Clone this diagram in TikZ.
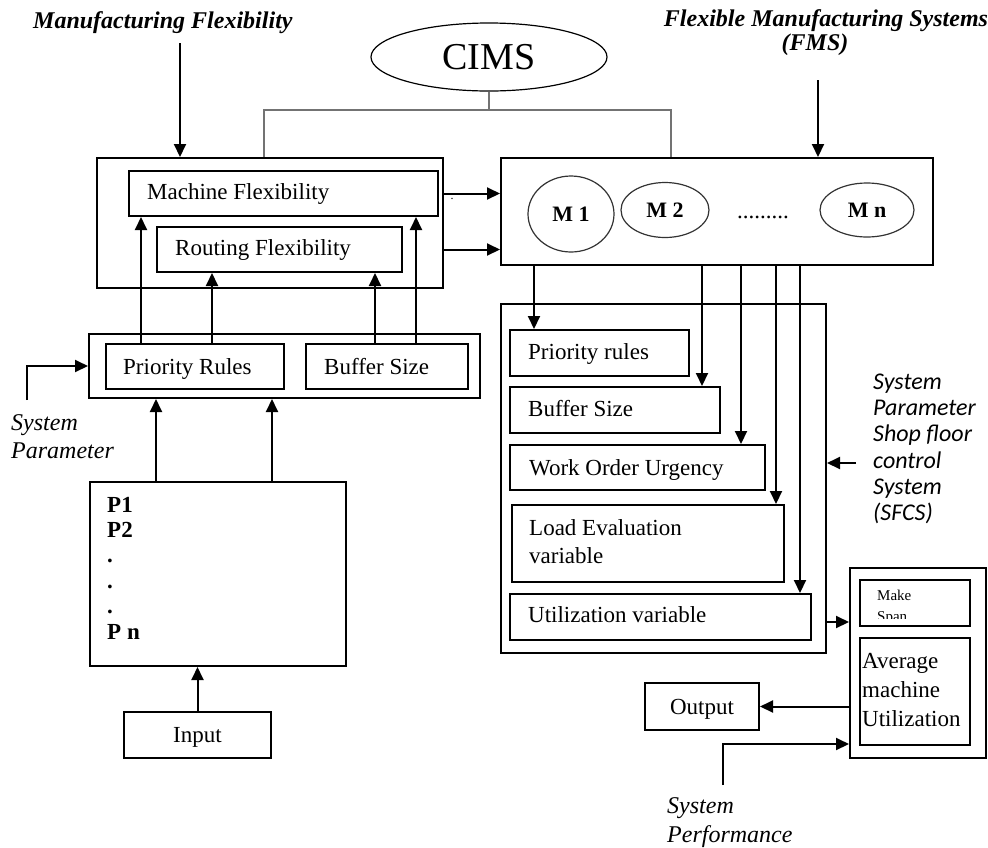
\documentclass[tikz,border=0pt]{standalone}
\usepackage{fontspec}
\setmainfont{Liberation Serif}
\newfontfamily\carl{Carlito}
\usetikzlibrary{arrows.meta,shapes.geometric}
\newcommand\mybox[5]{\node[box, minimum width={#4-#2}, minimum height={#5-#3}] (#1) at ({(#2+#4)/2},{(#3+#5)/2}) {};}
\begin{document}
\begin{tikzpicture}[x=1pt,y=-1pt,
  box/.style={draw, rectangle, line width=2pt, inner sep=0pt},
  txt/.style={font=\fontsize{23}{27}\selectfont, inner sep=0pt, text height=15.2pt, text depth=0pt, anchor=west},
  mtxt/.style={inner sep=0pt, anchor=west, align=left},
  arr/.style={line width=2pt, -{Triangle[length=13pt,width=12pt]}},
  gline/.style={line width=1.5pt, draw=black!55},
  mach/.style={draw=black!80, ellipse, line width=1.2pt, inner sep=0pt, font=\bfseries\fontsize{22}{24}\selectfont}
]
\useasboundingbox (0,0) rectangle (988,847);

% ---------- top labels ----------
\node[inner sep=0pt, anchor=west, font=\bfseries\itshape\fontsize{24}{28}\selectfont] (mflab) at (33,23) {Manufacturing Flexibility};
\node[inner sep=0pt, font=\bfseries\itshape\fontsize{24}{28}\selectfont] (fmslab) at (826,21) {Flexible Manufacturing Systems};
\node[inner sep=0pt, font=\bfseries\itshape\fontsize{24}{28}\selectfont] (fmslab2) at (815,45) {(FMS)};
\node[draw, ellipse, line width=1.2pt, minimum width=236, minimum height=68, inner sep=0pt, font=\fontsize{38}{40}\selectfont] (cims) at (489,57) {CIMS};

% ---------- boxes ----------
\mybox{flex}{97}{158}{443}{288}
\mybox{mf}{129}{171}{438}{216}
\mybox{rf}{157}{227}{402}{272}
\mybox{param}{89}{334}{480}{398}
\mybox{prl}{106}{344}{284}{389}
\mybox{bsl}{306}{344}{468}{389}
\mybox{pbox}{90}{482}{346}{666}
\mybox{input}{124}{712}{271}{758}
\mybox{fms}{501}{158}{933}{265}
\mybox{sfcs}{501}{304}{826}{653}
\mybox{pr2}{510}{330}{689}{376}
\mybox{bs2}{510}{387}{720}{433}
\mybox{wou}{510}{445}{765}{490}
\mybox{lev}{512}{505}{784}{582}
\mybox{uv}{510}{594}{811}{640}
\mybox{res}{850}{568}{986}{758}
\mybox{ms}{860}{580}{970}{626}
\mybox{amu}{860}{638}{970}{745}
\mybox{out}{645}{683}{759}{730}

% ---------- box texts ----------
\node[txt] (tmf) at (147,192) {Machine Flexibility};
\node[txt] (trf) at (175,248) {Routing Flexibility};
\node[txt] (tprl) at (123,367) {Priority Rules};
\node[txt] (tbsl) at (324,367) {Buffer Size};
\node[txt] (tpr2) at (528,352) {Priority rules};
\node[txt] (tbs2) at (528,409) {Buffer Size};
\node[txt] (twou) at (529,468) {Work Order Urgency};
\node[mtxt, font=\fontsize{23}{28}\selectfont] (tlev) at (529,542) {Load Evaluation\\variable};
\node[txt] (tuv) at (528,615) {Utilization variable};
\node[txt, anchor=center] (tout) at (out) {Output};
\node[txt, anchor=center] (tin) at (input) {Input};
\node[mtxt, font=\bfseries\fontsize{23}{25.4}\selectfont] (tp) at (107,568) {P1\\P2\\.\\.\\.\\P n};
\node[mtxt, font=\fontsize{23}{29}\selectfont] (tamu) at (862,690) {Average\\machine\\Utilization};
\begin{scope}
  \clip (862,582) rectangle (968,618);
  \node[mtxt, font=\fontsize{15}{21}\selectfont, anchor=north west] (tms) at (877,590) {Make\\Span};
\end{scope}
\node[inner sep=0pt, font=\fontsize{12}{12}\selectfont, anchor=base] (dot) at (452,199) {.};

% ---------- machines ----------
\node[mach, minimum width=86, minimum height=76] (m1) at (571,214) {M 1};
\node[mach, minimum width=88, minimum height=55] (m2) at (665,210) {M 2};
\node[mach, minimum width=94, minimum height=54] (mn) at (867,210) {M n};
\node[inner sep=0pt, anchor=base, font=\fontsize{23}{24}\selectfont] (dots) at (763,218) {.........};

% ---------- side labels ----------
\node[mtxt, font=\itshape\fontsize{24}{28}\selectfont] (splab) at (11,437) {System\\Parameter};
\node[mtxt, font=\itshape\fontsize{24}{29}\selectfont] (perflab) at (667,823) {System\\Performance};
\node[mtxt, font=\carl\itshape\fontsize{24}{26.3}\selectfont] (sfcslab) at (873,449) {System\\Parameter\\Shop floor\\control\\System\\(SFCS)};

% ---------- helper coordinates ----------
\coordinate (mfa) at (180,43);
\coordinate (fmsa) at (818,80);
\coordinate (jl) at (264,110);
\coordinate (jr) at (671,110);
\coordinate (spa) at (27,400);
\coordinate (sfa) at (856,463);
\coordinate (spf) at (723,785);
\coordinate (y622) at (0,622);
\coordinate (y744) at (0,744);

% ---------- connectors ----------
\draw[arr] (mfa) -- (mfa |- flex.north);
\draw[arr] (fmsa) -- (fmsa |- fms.north);
\draw[gline] (cims.south) -- (cims.south |- jl);
\draw[gline] (jl |- flex.north) -- (jl) -- (jr) -- (jr |- fms.north);

\draw[arr] (mf.east -| flex.east) -- (mf.east -| fms.west);
\draw[arr] (rf.east -| flex.east) -- (rf.east -| fms.west);

\draw[arr] ([xshift=36pt]prl.north west) -- ([xshift=36pt]prl.north west |- mf.south);
\draw[arr] ([xshift=107pt]prl.north west) -- ([xshift=107pt]prl.north west |- rf.south);
\draw[arr] ([xshift=70pt]bsl.north west) -- ([xshift=70pt]bsl.north west |- rf.south);
\draw[arr] ([xshift=111pt]bsl.north west) -- ([xshift=111pt]bsl.north west |- mf.south);

\draw[arr] ([xshift=67pt]pbox.north west) -- ([xshift=67pt]pbox.north west |- param.south);
\draw[arr] ([xshift=183pt]pbox.north west) -- ([xshift=183pt]pbox.north west |- param.south);
\draw[arr] (input.north) -- (input.north |- pbox.south);
\draw[arr] (spa) |- (param.west);

\draw[arr] ([xshift=34pt]fms.south west) -- ([xshift=34pt]fms.south west |- pr2.north);
\draw[arr] ([xshift=202pt]fms.south west) -- ([xshift=202pt]fms.south west |- bs2.north);
\draw[arr] ([xshift=241pt]fms.south west) -- ([xshift=241pt]fms.south west |- wou.north);
\draw[arr] ([xshift=276pt]fms.south west) -- ([xshift=276pt]fms.south west |- lev.north);
\draw[arr] ([xshift=300pt]fms.south west) -- ([xshift=300pt]fms.south west |- uv.north);

\draw[arr] (sfa) -- (sfa -| sfcs.east);
\draw[arr] (sfcs.east |- y622) -- (res.west |- y622);
\draw[arr] (res.west |- out.east) -- (out.east);
\draw[arr] (spf) |- (res.west |- y744);
\end{tikzpicture}
\end{document}
